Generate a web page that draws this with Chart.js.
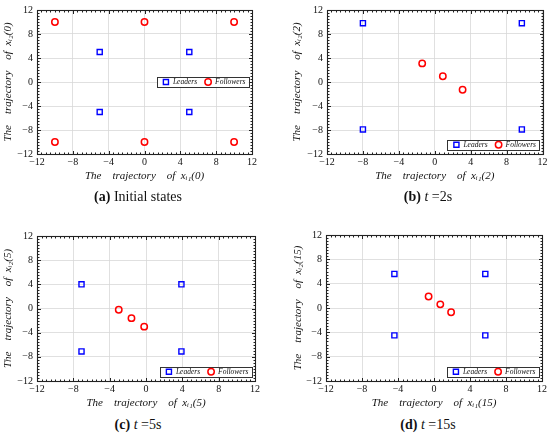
<!DOCTYPE html>
<html><head><meta charset="utf-8">
<script src="https://cdn.jsdelivr.net/npm/chart.js@4.4.1/dist/chart.umd.min.js"></script>
<style>
html,body{margin:0;padding:0;background:#fff}
body{width:550px;height:434px;position:relative;overflow:hidden}
canvas{position:absolute}
.cap{position:absolute;font-family:'Liberation Serif','DejaVu Serif',serif;font-size:14px;color:#111;white-space:nowrap;transform:translate(-50%,-50%)}
</style></head><body>
<canvas id="ca" style="left:0;top:0"></canvas>
<canvas id="cb" style="left:275px;top:0"></canvas>
<canvas id="cc" style="left:0;top:217px"></canvas>
<canvas id="cd" style="left:275px;top:217px"></canvas>
<div class="cap" style="left:138px;top:197px"><b>(a)</b> Initial states</div>
<div class="cap" style="left:428px;top:197px"><b>(b)</b> <i>t</i> =2s</div>
<div class="cap" style="left:138px;top:425px"><b>(c)</b> <i>t</i> =5s</div>
<div class="cap" style="left:428px;top:425px"><b>(d)</b> <i>t</i> =15s</div>
<script>
// ---- data ----
const axisTicks = [-12, -8, -4, 0, 4, 8, 12];
const minorStep = 0.5;

const leadersA_x = [-5, 5, -5, 5];
const leadersA_y = [5, 5, -5, -5];
const followersA_x = [-10, 0, 10, -10, 0, 10];
const followersA_y = [10, 10, 10, -10, -10, -10];

const leadersB_x = [-8, 9.7, -8, 9.7];
const leadersB_y = [9.8, 9.8, -7.9, -7.9];
const followersB_x = [-1.4, 0.9, 3.1];
const followersB_y = [3.1, 0.95, -1.3];

const leadersC_x = [-7.1, 3.9, -7.1, 3.9];
const leadersC_y = [4.0, 4.0, -7.1, -7.1];
const followersC_x = [-3.0, -1.6, -0.2];
const followersC_y = [-0.2, -1.6, -3.0];

const leadersD_x = [-4.4, 5.7, -4.4, 5.7];
const leadersD_y = [5.6, 5.6, -4.5, -4.5];
const followersD_x = [-0.6, 0.7, 1.9];
const followersD_y = [1.9, 0.6, -0.7];

const seriesNames = ['Leaders', 'Followers'];
const timeTags = ['0', '2', '5', '15'];

// ---- helpers ----
const SERIF = "'Liberation Serif','DejaVu Serif',serif";
const toPts = (xs, ys) => xs.map((x, i) => ({x, y: ys[i]}));
const fmt = v => v < 0 ? '\u2212' + Math.abs(v) : String(v);

const framePlugin = {
  id: 'frame',
  afterDraw(chart) {
    const {ctx, chartArea: ca, scales: {x, y}} = chart;
    const o = chart.options.plugins.frame;
    ctx.save();
    ctx.strokeStyle = '#222';
    ctx.lineWidth = 1;
    const L = Math.round(ca.left) + 0.5, R = Math.round(ca.right) + 0.5;
    const T = Math.round(ca.top) + 0.5, B = Math.round(ca.bottom) + 0.5;
    ctx.beginPath();
    for (let v = x.min; v <= x.max + 1e-9; v += minorStep) {
      const p = Math.round(x.getPixelForValue(v)) + 0.5;
      const major = Math.abs(v / 4 - Math.round(v / 4)) < 1e-6;
      const len = major ? 3.5 : 2;
      ctx.moveTo(p, B); ctx.lineTo(p, B - len);
      ctx.moveTo(p, T); ctx.lineTo(p, T + len);
    }
    for (let v = y.min; v <= y.max + 1e-9; v += minorStep) {
      const p = Math.round(y.getPixelForValue(v)) + 0.5;
      const major = Math.abs(v / 4 - Math.round(v / 4)) < 1e-6;
      const len = major ? 3.5 : 2;
      ctx.moveTo(L, p); ctx.lineTo(L + len, p);
      ctx.moveTo(R, p); ctx.lineTo(R - len, p);
    }
    ctx.stroke();
    ctx.lineWidth = 1.1;
    ctx.strokeRect(L, T, R - L, B - T);

    // inner legend
    ctx.font = 'italic 7.5px ' + SERIF;
    const ds = chart.data.datasets;
    const w0 = ctx.measureText(ds[0].label).width;
    const w1 = ctx.measureText(ds[1].label).width;
    const boxW = 9 + 7 + w0 + 11 + 7 + w1 + 3;
    const boxH = 9.5;
    const bx = ca.right - 3.5 - boxW;
    const by = o.legendPos === 'center' ? y.getPixelForValue(0) - boxH / 2 : ca.bottom - 4.5 - boxH;
    ctx.fillStyle = '#fff';
    ctx.fillRect(bx, by, boxW, boxH);
    ctx.strokeStyle = '#333';
    ctx.lineWidth = 1;
    ctx.strokeRect(Math.round(bx) + 0.5, Math.round(by) + 0.5, Math.round(boxW), Math.round(boxH));
    const cy = by + boxH / 2;
    let cx = bx + 9;
    ctx.textBaseline = 'middle';
    ds.forEach((d, i) => {
      ctx.strokeStyle = d.borderColor;
      ctx.lineWidth = d.borderWidth;
      ctx.beginPath();
      if (d.pointStyle === 'rect') {
        const s = d.pointRadius * Math.SQRT1_2;
        ctx.rect(cx - s, cy - s, 2 * s, 2 * s);
      } else {
        ctx.arc(cx, cy, d.pointRadius, 0, Math.PI * 2);
      }
      ctx.stroke();
      ctx.fillStyle = '#111';
      ctx.fillText(d.label, cx + 7, cy + 0.5);
      cx += 7 + (i === 0 ? w0 : w1) + 11;
    });
    ctx.restore();
  }
};

function makeChart(id, leaders, followers, tag, g, legendPos) {
  const W = 275, H = 200;
  const canvas = document.getElementById(id);
  canvas.width = W; canvas.height = H;
  canvas.style.width = W + 'px'; canvas.style.height = H + 'px';
  const titleFont = 11, titleLH = titleFont * 1.2;
  const padLeft = Math.max(0, g.yTitleX - 1 - titleLH / 2);
  const yWidth = g.left - padLeft;
  const xBottom = g.xTitleY + titleLH / 2;
  const xHeight = xBottom - g.bottom;
  const sp = '\u2003';
  new Chart(canvas, {
    type: 'scatter',
    data: {
      datasets: [
        {label: seriesNames[0], data: leaders, pointStyle: 'rect', pointRadius: 3.6,
         borderColor: '#0000ff', backgroundColor: 'rgba(0,0,0,0)', borderWidth: 1.4, pointHoverRadius: 3.6},
        {label: seriesNames[1], data: followers, pointStyle: 'circle', pointRadius: 3.2,
         borderColor: '#ff0000', backgroundColor: 'rgba(0,0,0,0)', borderWidth: 1.5, pointHoverRadius: 3.2}
      ]
    },
    options: {
      responsive: false,
      animation: false,
      events: [],
      layout: {padding: {left: padLeft, right: W - g.right, top: g.top, bottom: H - xBottom}},
      plugins: {legend: {display: false}, tooltip: {enabled: false}, frame: {legendPos}},
      scales: {
        x: {
          type: 'linear', min: -12, max: 12,
          afterBuildTicks: s => { s.ticks = axisTicks.map(v => ({value: v})); },
          afterFit: s => { s.height = xHeight; },
          ticks: {callback: fmt, font: {family: SERIF, size: 10}, color: '#111', padding: 2.5, maxRotation: 0},
          grid: {color: '#d8d8d8', lineWidth: 0.8, drawTicks: false},
          border: {display: false},
          title: {display: true, text: 'The' + sp + 'trajectory' + sp + 'of' + '\u2002' + 'x\u1D62\u2081(' + tag + ')',
                  font: {family: SERIF, size: titleFont, style: 'italic', lineHeight: 1.2}, color: '#111', padding: {top: 0, bottom: 0}}
        },
        y: {
          type: 'linear', min: -12, max: 12,
          afterBuildTicks: s => { s.ticks = axisTicks.map(v => ({value: v})); },
          afterFit: s => { s.width = yWidth; },
          ticks: {callback: fmt, font: {family: SERIF, size: 10}, color: '#111', padding: 4},
          grid: {color: '#d8d8d8', lineWidth: 0.8, drawTicks: false},
          border: {display: false},
          title: {display: true, text: 'The' + sp + 'trajectory' + sp + 'of' + '\u2002' + 'x\u1D62\u2082(' + tag + ')',
                  font: {family: SERIF, size: titleFont, style: 'italic', lineHeight: 1.2}, color: '#111', padding: {top: 1, bottom: 0}}
        }
      }
    },
    plugins: [framePlugin]
  });
}

makeChart('ca', toPts(leadersA_x, leadersA_y), toPts(followersA_x, followersA_y), timeTags[0],
  {left: 37, right: 252, top: 8, bottom: 154, yTitleX: 8, xTitleY: 176}, 'center');
makeChart('cb', toPts(leadersB_x, leadersB_y), toPts(followersB_x, followersB_y), timeTags[1],
  {left: 52, right: 268, top: 8, bottom: 154, yTitleX: 22, xTitleY: 176}, 'bottom');
makeChart('cc', toPts(leadersC_x, leadersC_y), toPts(followersC_x, followersC_y), timeTags[2],
  {left: 37, right: 255, top: 19, bottom: 164, yTitleX: 8, xTitleY: 186}, 'bottom');
makeChart('cd', toPts(leadersD_x, leadersD_y), toPts(followersD_x, followersD_y), timeTags[3],
  {left: 51, right: 267, top: 18, bottom: 164, yTitleX: 23, xTitleY: 186}, 'bottom');
</script>
</body></html>
